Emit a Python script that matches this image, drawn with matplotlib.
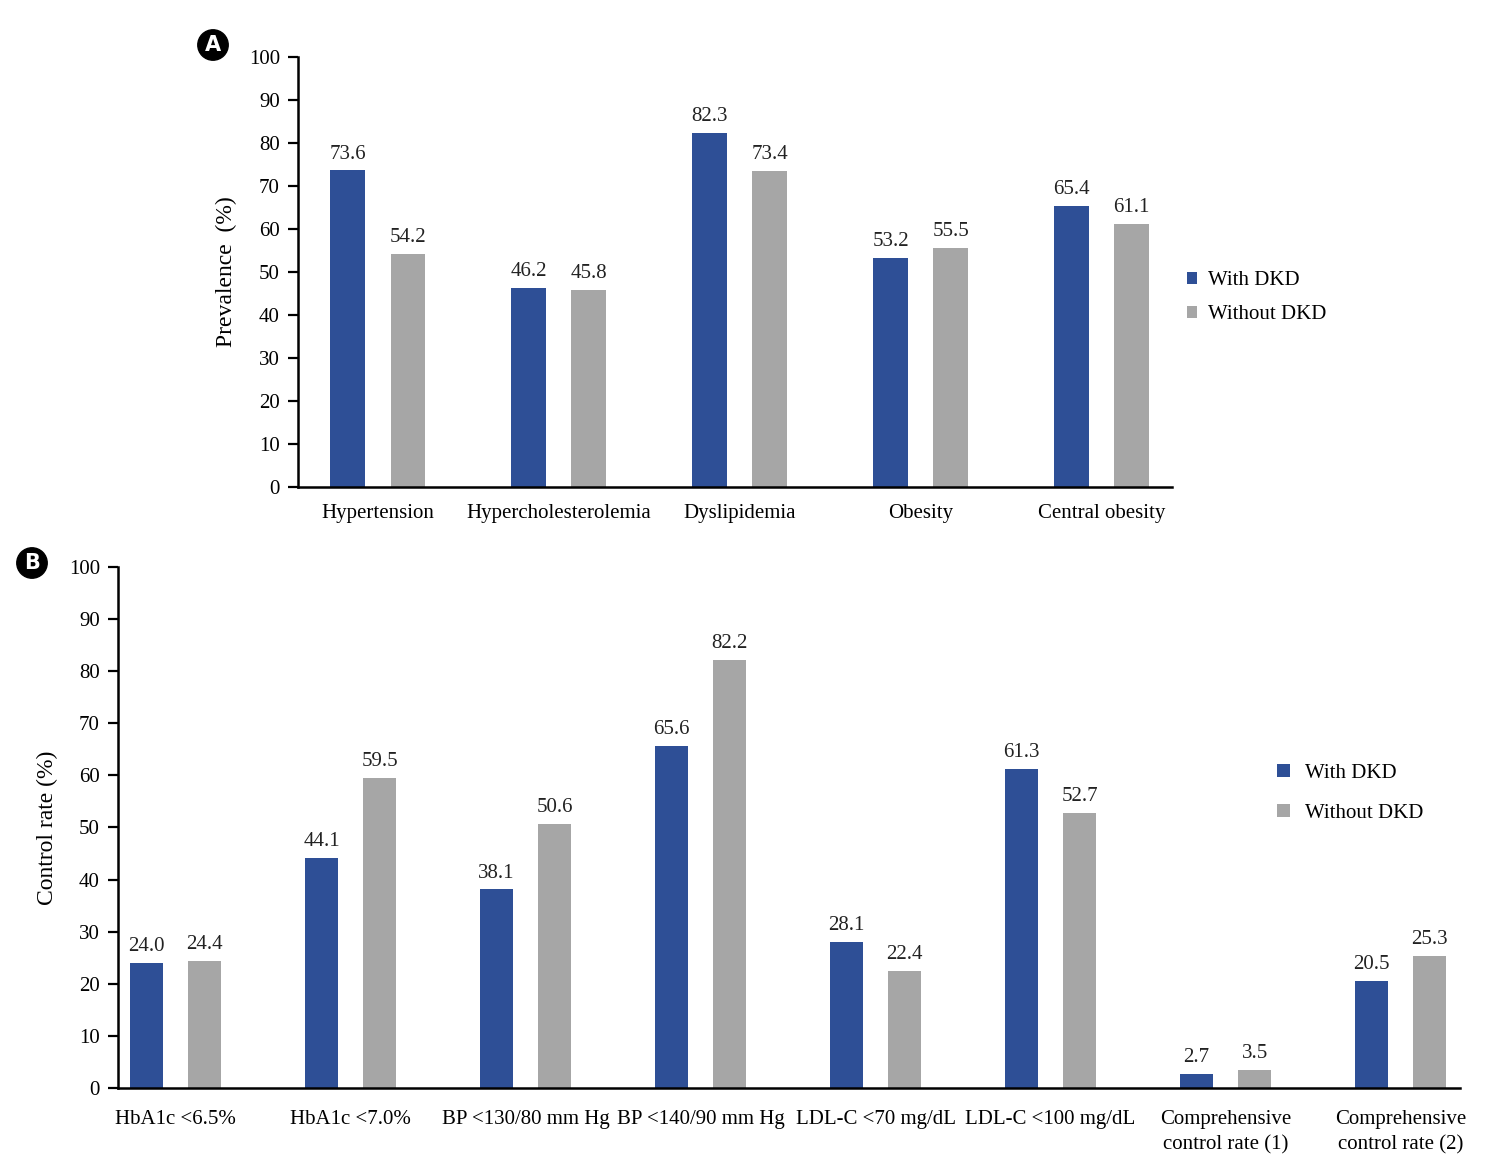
import numpy as np
import matplotlib
matplotlib.use("Agg")
import matplotlib.pyplot as plt

SERIF = ['Liberation Serif', 'DejaVu Serif']
plt.rcParams['font.family'] = SERIF

# Panel A data
cats_a = ["Hypertension", "Hypercholesterolemia", "Dyslipidemia", "Obesity", "Central obesity"]
with_a = [73.6, 46.2, 82.3, 53.2, 65.4]
without_a = [54.2, 45.8, 73.4, 55.5, 61.1]

# Panel B data
cats_b = ["HbA1c <6.5%", "HbA1c <7.0%", "BP <130/80 mm Hg", "BP <140/90 mm Hg",
          "LDL-C <70 mg/dL", "LDL-C <100 mg/dL", "Comprehensive\ncontrol rate (1)",
          "Comprehensive\ncontrol rate (2)"]
with_b = [24.0, 44.1, 38.1, 65.6, 28.1, 61.3, 2.7, 20.5]
without_b = [24.4, 59.5, 50.6, 82.2, 22.4, 52.7, 3.5, 25.3]

yticks = list(range(0, 101, 10))

BLUE = "#2E4F96"
GRAY = "#A6A6A6"
FS = 15


def draw_panel(ax, cats, v1, v2, xlim, ylabel, xpad):
    x = np.arange(len(cats))
    w = 0.19
    off = 0.166
    b1 = ax.bar(x - off, v1, w, color=BLUE, label="With DKD")
    b2 = ax.bar(x + off, v2, w, color=GRAY, label="Without DKD")
    for bars, vals in ((b1, v1), (b2, v2)):
        for b, v in zip(bars, vals):
            ax.annotate(f"{v:.1f}", (b.get_x() + b.get_width() / 2, v),
                        xytext=(0, 5), textcoords="offset points",
                        ha="center", va="bottom", fontsize=FS, color="#222222")
    ax.set_xlim(*xlim)
    ax.set_ylim(0, 100)
    ax.set_yticks(yticks)
    ax.set_xticks(x)
    ax.set_xticklabels(cats, fontsize=FS, va="top", linespacing=1.45)
    ax.tick_params(axis="x", length=0, pad=xpad)
    ax.tick_params(axis="y", length=7, width=1.6, direction="out", labelsize=FS, pad=6)
    for s in ("top", "right"):
        ax.spines[s].set_visible(False)
    for s in ("left", "bottom"):
        ax.spines[s].set_linewidth(1.8)
    ax.set_ylabel(ylabel, fontsize=17)


fig = plt.figure(figsize=(14.88, 11.72), dpi=100)
leg_prop = dict(family=SERIF, size=FS)

ax_a = fig.add_axes([0.2003, 0.5845, 0.5874, 0.3669])
draw_panel(ax_a, cats_a, with_a, without_a, (-0.44, 4.39), "Prevalence  (%)", 12)
ax_a.yaxis.set_label_coords(-0.07, 0.5)
ax_a.legend(loc="center left", bbox_to_anchor=(1.0, 0.44), frameon=False,
            prop=leg_prop, handlelength=0.5, handleheight=0.5, handletextpad=0.5,
            labelspacing=0.7, borderaxespad=0.3)

ax_b = fig.add_axes([0.0793, 0.0717, 0.9019, 0.4445])
draw_panel(ax_b, cats_b, with_b, without_b, (-0.33, 7.34), "Control rate (%)", 16)
ax_b.yaxis.set_label_coords(-0.045, 0.5)
ax_b.legend(loc="center left", bbox_to_anchor=(0.85, 0.565), frameon=False,
            prop=leg_prop, handlelength=0.6, handleheight=0.6, handletextpad=0.7,
            labelspacing=1.0)

# panel badges
for letter, (px, py) in (("A", (213, 45)), ("B", (32, 563))):
    fx, fy = px / 1488, 1 - py / 1172
    fig.text(fx, fy, letter, ha="center", va="center", color="white",
             fontsize=15, fontweight="bold", family="DejaVu Sans",
             bbox=dict(boxstyle="circle,pad=0.25", fc="black", ec="black"))

fig.savefig("out.png", dpi=100)
